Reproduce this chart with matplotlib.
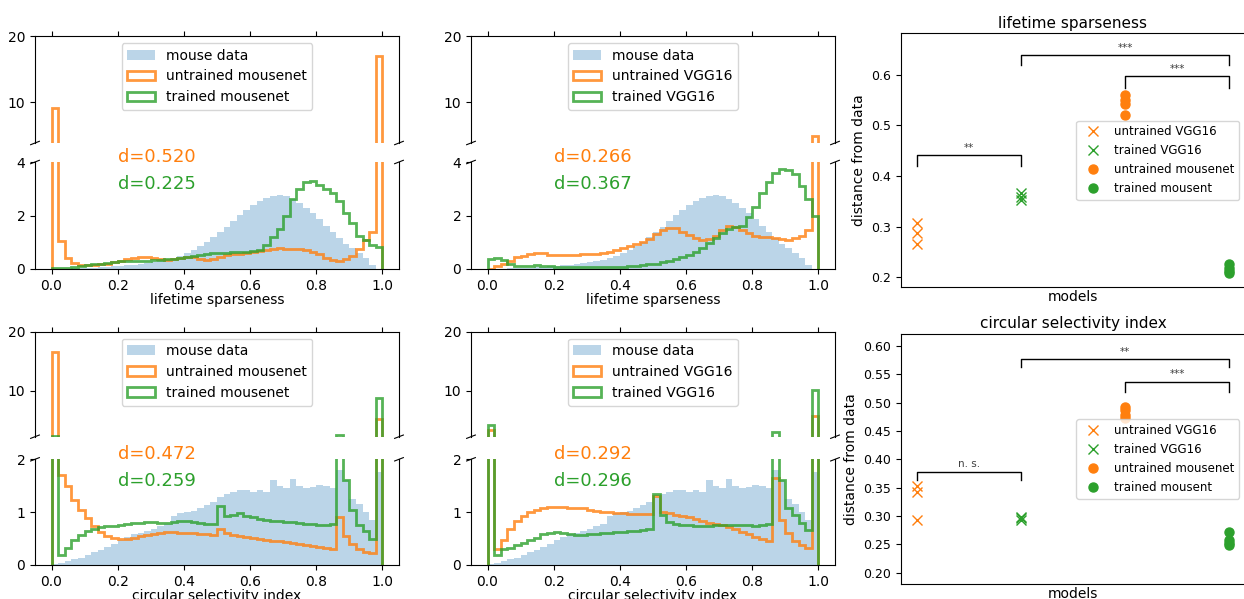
import numpy as np
import matplotlib.pyplot as plt

edges = np.linspace(0, 1, 51)
centers = edges[:-1] + 0.01

# lifetime sparseness histograms (density per bin)
mouse_ls = [0.0, 0.0, 0.01, 0.02, 0.03, 0.04, 0.05, 0.06, 0.08, 0.10,
            0.12, 0.14, 0.16, 0.19, 0.22, 0.25, 0.29, 0.34, 0.40, 0.48,
            0.58, 0.70, 0.85, 1.00, 1.18, 1.38, 1.58, 1.80, 2.02, 2.22,
            2.40, 2.55, 2.66, 2.74, 2.78, 2.74, 2.62, 2.45, 2.28, 2.08,
            1.86, 1.62, 1.38, 1.15, 0.95, 0.78, 0.58, 0.40, 0.15, 0.0]
untrained_mn_ls = [9.1, 1.05, 0.42, 0.22, 0.15, 0.14, 0.15, 0.17, 0.2, 0.25,
                   0.3, 0.36, 0.42, 0.45, 0.44, 0.4, 0.36, 0.35, 0.38, 0.42,
                   0.45, 0.43, 0.38, 0.35, 0.38, 0.45, 0.52, 0.55, 0.56, 0.58,
                   0.62, 0.66, 0.7, 0.75, 0.78, 0.76, 0.73, 0.75, 0.72, 0.65,
                   0.55, 0.42, 0.32, 0.3, 0.38, 0.5, 0.75, 1.1, 1.4, 17.0]
trained_mn_ls = [0.02, 0.03, 0.05, 0.08, 0.11, 0.14, 0.17, 0.2, 0.23, 0.26,
                 0.29, 0.3, 0.3, 0.3, 0.31, 0.32, 0.34, 0.36, 0.38, 0.41,
                 0.44, 0.48, 0.52, 0.56, 0.59, 0.6, 0.61, 0.62, 0.63, 0.64,
                 0.66, 0.72, 0.9, 1.2, 1.5, 2.0, 2.6, 3.0, 3.24, 3.28,
                 3.15, 3.0, 2.84, 2.53, 2.1, 1.72, 1.22, 1.1, 0.9, 0.82]
untrained_vgg_ls = [0.0, 0.1, 0.2, 0.3, 0.45, 0.5, 0.57, 0.6, 0.58, 0.52,
                    0.52, 0.52, 0.53, 0.54, 0.55, 0.55, 0.56, 0.58, 0.62, 0.7,
                    0.78, 0.85, 0.92, 1.0, 1.12, 1.3, 1.45, 1.55, 1.55, 1.4,
                    1.28, 1.15, 1.08, 1.12, 1.25, 1.45, 1.6, 1.58, 1.45, 1.35,
                    1.25, 1.2, 1.18, 1.17, 1.13, 1.1, 1.15, 1.25, 1.45, 5.0]
trained_vgg_ls = [0.38, 0.4, 0.32, 0.2, 0.12, 0.1, 0.13, 0.15, 0.12, 0.1,
                  0.08, 0.07, 0.06, 0.06, 0.06, 0.07, 0.07, 0.08, 0.08, 0.08,
                  0.09, 0.1, 0.12, 0.14, 0.17, 0.2, 0.25, 0.3, 0.36, 0.43,
                  0.52, 0.65, 0.8, 0.98, 1.15, 1.33, 1.5, 1.58, 1.62, 1.95,
                  2.3, 2.85, 3.25, 3.6, 3.75, 3.7, 3.55, 3.1, 2.6, 2.0]

# circular selectivity index histograms
mouse_csi = [0.01, 0.03, 0.08, 0.11, 0.14, 0.18, 0.24, 0.29, 0.34, 0.40,
             0.47, 0.53, 0.58, 0.61, 0.64, 0.68, 0.73, 0.78, 0.92, 0.98,
             1.00, 1.03, 1.08, 1.14, 1.20, 1.28, 1.34, 1.38, 1.42, 1.41,
             1.38, 1.42, 1.38, 1.60, 1.50, 1.45, 1.62, 1.50, 1.45, 1.48,
             1.52, 1.50, 1.45, 1.80, 1.60, 1.25, 1.15, 1.00, 0.85, 1.76]
untrained_mn_csi = [16.6, 1.7, 1.5, 1.23, 1.05, 0.88, 0.74, 0.62, 0.55, 0.52,
                    0.5, 0.5, 0.52, 0.55, 0.57, 0.59, 0.6, 0.62, 0.62, 0.61,
                    0.6, 0.6, 0.59, 0.58, 0.57, 0.68, 0.6, 0.57, 0.55, 0.53,
                    0.51, 0.5, 0.48, 0.46, 0.45, 0.43, 0.42, 0.4, 0.38, 0.36,
                    0.34, 0.32, 0.3, 0.91, 0.55, 0.4, 0.3, 0.25, 0.22, 5.2]
trained_mn_csi = [2.4, 0.19, 0.33, 0.47, 0.57, 0.64, 0.69, 0.71, 0.73, 0.74,
                  0.76, 0.78, 0.79, 0.8, 0.81, 0.81, 0.8, 0.8, 0.82, 0.84,
                  0.83, 0.81, 0.79, 0.78, 0.77, 1.12, 0.92, 0.95, 0.98, 0.93,
                  0.9, 0.87, 0.85, 0.84, 0.83, 0.82, 0.81, 0.8, 0.78, 0.77,
                  0.76, 0.76, 0.78, 2.5, 1.6, 1.05, 0.75, 0.65, 0.5, 8.7]
untrained_vgg_csi = [3.3, 0.3, 0.48, 0.68, 0.83, 0.92, 1.0, 1.05, 1.08, 1.1,
                     1.1, 1.09, 1.08, 1.08, 1.07, 1.05, 1.03, 1.01, 1.0, 0.99,
                     0.98, 0.97, 0.97, 0.97, 0.97, 1.3, 1.0, 0.98, 0.95, 0.92,
                     0.9, 0.87, 0.84, 0.8, 0.78, 0.75, 0.72, 0.68, 0.63, 0.58,
                     0.53, 0.5, 0.46, 1.64, 0.85, 0.6, 0.45, 0.38, 0.32, 5.7]
trained_vgg_csi = [4.1, 0.18, 0.3, 0.33, 0.38, 0.42, 0.47, 0.52, 0.58, 0.6,
                   0.62, 0.6, 0.58, 0.57, 0.57, 0.58, 0.59, 0.6, 0.61, 0.62,
                   0.63, 0.64, 0.65, 0.66, 0.68, 1.35, 0.95, 0.82, 0.78, 0.76,
                   0.75, 0.74, 0.73, 0.74, 0.76, 0.76, 0.76, 0.76, 0.75, 0.75,
                   0.74, 0.75, 0.78, 3.05, 1.6, 1.07, 0.95, 0.8, 0.67, 10.2]

# distance from data, 3-4 runs per model
models = ['untrained VGG16', 'trained VGG16', 'untrained mousenet', 'trained mousent']
ls_dist = [[0.308, 0.287, 0.265],
           [0.367, 0.359, 0.352],
           [0.560, 0.550, 0.543, 0.520],
           [0.226, 0.218, 0.212, 0.209]]
csi_dist = [[0.352, 0.343, 0.293],
            [0.299, 0.296, 0.293],
            [0.493, 0.487, 0.478, 0.472],
            [0.272, 0.258, 0.253, 0.249]]

fig = plt.figure(figsize=(12.44, 5.99), dpi=100)
W, H = 1244, 599


def px_axes(x0, y0, x1, y1):
    return fig.add_axes([x0 / W, 1 - y1 / H, (x1 - x0) / W, (y1 - y0) / H])


def hist_panel(col_x, rows_px, mouse, untr, tr, names, d_vals, xlabel, ybreak, ymax, yticks):
    ax_t = px_axes(col_x, rows_px[0], col_x + 364, rows_px[1])
    ax_b = px_axes(col_x, rows_px[2], col_x + 364, rows_px[3])
    for ax in (ax_t, ax_b):
        ax.hist(centers, bins=edges, weights=mouse, histtype='stepfilled',
                color='tab:blue', alpha=0.3, label='mouse data')
        ax.hist(centers, bins=edges, weights=untr, histtype='step', lw=2,
                color='tab:orange', alpha=0.8, label=names[0])
        ax.hist(centers, bins=edges, weights=tr, histtype='step', lw=2,
                color='tab:green', alpha=0.8, label=names[1])
        ax.set_xlim(-0.05, 1.05)
        ax.tick_params(labelsize=10)
    ax_t.set_ylim(ybreak, 20)
    ax_t.set_yticks([10, 20])
    ax_b.set_ylim(0, ymax)
    ax_b.set_yticks(yticks)
    ax_t.spines['bottom'].set_visible(False)
    ax_b.spines['top'].set_visible(False)
    ax_t.xaxis.tick_top()
    ax_t.tick_params(labeltop=False)
    ax_b.xaxis.tick_bottom()
    ax_b.set_xlabel(xlabel, fontsize=10, labelpad=0)
    ax_t.legend(loc='upper center', fontsize=10)
    dx, dy = 0.012, 0.016
    kw = dict(color='k', clip_on=False, lw=0.8)
    ax_t.plot((-dx, dx), (-dy, dy), transform=ax_t.transAxes, **kw)
    ax_t.plot((1 - dx, 1 + dx), (-dy, dy), transform=ax_t.transAxes, **kw)
    ax_b.plot((-dx, dx), (1 - dy, 1 + dy), transform=ax_b.transAxes, **kw)
    ax_b.plot((1 - dx, 1 + dx), (1 - dy, 1 + dy), transform=ax_b.transAxes, **kw)
    ax_b.text(0.2, ymax, d_vals[0], color='tab:orange', fontsize=13)
    ax_b.text(0.2, 0.75 * ymax, d_vals[1], color='tab:green', fontsize=13)


row1 = (36, 143, 162, 269)
row2 = (331.7, 436.7, 459.3, 565)
hist_panel(35, row1, mouse_ls, untrained_mn_ls, trained_mn_ls,
           ['untrained mousenet', 'trained mousenet'], ['d=0.520', 'd=0.225'],
           'lifetime sparseness', 3.9, 4, [0, 2, 4])
hist_panel(471, row1, mouse_ls, untrained_vgg_ls, trained_vgg_ls,
           ['untrained VGG16', 'trained VGG16'], ['d=0.266', 'd=0.367'],
           'lifetime sparseness', 3.9, 4, [0, 2, 4])
hist_panel(35, row2, mouse_csi, untrained_mn_csi, trained_mn_csi,
           ['untrained mousenet', 'trained mousenet'], ['d=0.472', 'd=0.259'],
           'circular selectivity index', 2.2, 2, [0, 1, 2])
hist_panel(471, row2, mouse_csi, untrained_vgg_csi, trained_vgg_csi,
           ['untrained VGG16', 'trained VGG16'], ['d=0.292', 'd=0.296'],
           'circular selectivity index', 2.2, 2, [0, 1, 2])


def bracket(ax, x1, x2, y, h, txt):
    ax.plot([x1, x1, x2, x2], [y - h, y, y, y - h], color='k', lw=1)
    ax.text((x1 + x2) / 2, y + 0.004, txt, ha='center', va='bottom',
            fontsize=7.5, color='0.25')


def dist_panel(y0, y1, dists, ylim, title, brackets):
    ax = px_axes(901, y0, 1245, y1)
    styles = [('x', 'tab:orange'), ('x', 'tab:green'),
              ('o', 'tab:orange'), ('o', 'tab:green')]
    for i, (vals, name, (m, c)) in enumerate(zip(dists, models, styles)):
        ax.plot([i] * len(vals), vals, ls='', marker=m, color=c, ms=6.5,
                mew=1, label=name)
    for b in brackets:
        bracket(ax, *b)
    ax.set_xlim(-0.15, 3.15)
    ax.set_ylim(*ylim)
    ax.set_xticks([])
    ax.tick_params(labelsize=9)
    ax.set_xlabel('models', fontsize=10, labelpad=2)
    ax.set_ylabel('distance from data', fontsize=10)
    ax.set_title(title, fontsize=11, pad=4)
    ax.legend(loc='center right', fontsize=8.5)


dist_panel(33.3, 287.3, ls_dist, (0.18, 0.682), 'lifetime sparseness',
           [(0, 1, 0.441, 0.021, '**'), (1, 3, 0.640, 0.02, '***'),
            (2, 3, 0.598, 0.024, '***')])
dist_panel(334, 584, csi_dist, (0.18, 0.621), 'circular selectivity index',
           [(0, 1, 0.378, 0.015, 'n. s.'), (1, 3, 0.577, 0.014, '**'),
            (2, 3, 0.537, 0.019, '***')])

fig.savefig('out.png', dpi=100)
